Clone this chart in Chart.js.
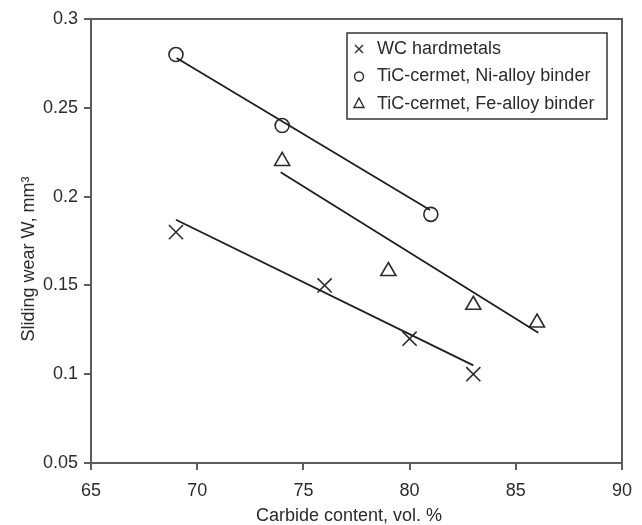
<!DOCTYPE html>
<html><head><meta charset="utf-8">
<script src="https://cdn.jsdelivr.net/npm/chart.js@4.4.1/dist/chart.umd.min.js"></script>
<style>
html,body{margin:0;padding:0;background:#fff;}
#wrap{position:relative;width:642px;height:525px;}
</style></head>
<body><div id="wrap"><canvas id="chart" width="642" height="525"></canvas></div>
<script>
const seriesNames = ['WC hardmetals', 'TiC-cermet, Ni-alloy binder', 'TiC-cermet, Fe-alloy binder'];
const wcCarbide = [69, 76, 80, 83];
const wcWear = [0.18, 0.15, 0.12, 0.10];
const niCarbide = [69, 74, 81];
const niWear = [0.28, 0.24, 0.19];
const feCarbide = [74, 79, 83, 86];
const feWear = [0.22, 0.158, 0.139, 0.129];
// trend-line end points as drawn in the picture
const wcFitCarbide = [69, 83];
const wcFitWear = [0.187, 0.105];
const niFitCarbide = [69.03, 80.96];
const niFitWear = [0.278, 0.1925];
const feFitCarbide = [73.93, 86.06];
const feFitWear = [0.2137, 0.1234];
const xTickValues = [65, 70, 75, 80, 85, 90];
const yTickValues = [0.05, 0.1, 0.15, 0.2, 0.25, 0.3];
const xTitle = 'Carbide content, vol. %';
const yTitle = 'Sliding wear W, mm\u00B3';

const pts = (xs, ys) => xs.map((x, i) => ({x: x, y: ys[i]}));
const FONT = "'Liberation Sans', Arial, sans-serif";
const INK = '#2b2b2b';
const AXIS = '#5c5c5c';
const LINE = '#1e1e1e';

Chart.defaults.font.family = FONT;
Chart.defaults.font.size = 18;
Chart.defaults.color = INK;

function legendMarker(ctx, style, x, y) {
  ctx.beginPath();
  if (style === 'cross') {
    ctx.moveTo(x - 4, y - 4); ctx.lineTo(x + 4, y + 4);
    ctx.moveTo(x + 4, y - 4); ctx.lineTo(x - 4, y + 4);
  } else if (style === 'circle') {
    ctx.arc(x, y, 4.5, 0, Math.PI * 2);
  } else {
    ctx.moveTo(x, y - 6); ctx.lineTo(x + 5, y + 3.5); ctx.lineTo(x - 5, y + 3.5); ctx.closePath();
  }
  ctx.stroke();
}

const frameAndText = {
  id: 'frameAndText',
  afterDraw(chart) {
    const ctx = chart.ctx, a = chart.chartArea;
    ctx.save();
    ctx.strokeStyle = AXIS; ctx.lineWidth = 2;
    ctx.strokeRect(a.left, a.top, a.right - a.left, a.bottom - a.top);
    ctx.fillStyle = INK; ctx.font = '18px ' + FONT;
    ctx.textAlign = 'center'; ctx.textBaseline = 'alphabetic';
    ctx.fillText(xTitle, 349, 521);
    ctx.save();
    ctx.translate(29, 259); ctx.rotate(-Math.PI / 2);
    ctx.textBaseline = 'middle';
    ctx.fillText(yTitle, 0, 0);
    ctx.restore();
    // legend box
    ctx.fillStyle = '#fff';
    ctx.fillRect(347, 33, 260, 86);
    ctx.strokeStyle = '#333'; ctx.lineWidth = 1.5;
    ctx.strokeRect(347, 33, 260, 86);
    const rows = [49, 76.5, 104];
    const styles = ['cross', 'circle', 'triangle'];
    ctx.fillStyle = INK; ctx.textAlign = 'left'; ctx.textBaseline = 'middle';
    ctx.lineWidth = 1.4; ctx.strokeStyle = INK;
    for (let i = 0; i < 3; i++) {
      legendMarker(ctx, styles[i], 359, rows[i]);
      ctx.fillText(seriesNames[i], 377, rows[i]);
    }
    ctx.restore();
  }
};

const markerBase = {showLine: false, pointBorderColor: INK, pointBackgroundColor: 'rgba(0,0,0,0)', pointBorderWidth: 1.6, pointHoverRadius: 0};
const fitBase = {showLine: true, borderColor: LINE, borderWidth: 1.8, pointRadius: 0, pointHoverRadius: 0, fill: false};

new Chart(document.getElementById('chart'), {
  type: 'scatter',
  data: {
    datasets: [
      Object.assign({label: 'fit WC', data: pts(wcFitCarbide, wcFitWear)}, fitBase),
      Object.assign({label: 'fit Ni', data: pts(niFitCarbide, niFitWear)}, fitBase),
      Object.assign({label: 'fit Fe', data: pts(feFitCarbide, feFitWear)}, fitBase),
      Object.assign({label: seriesNames[0], data: pts(wcCarbide, wcWear), pointStyle: 'crossRot', pointRadius: 10}, markerBase),
      Object.assign({label: seriesNames[1], data: pts(niCarbide, niWear), pointStyle: 'circle', pointRadius: 7}, markerBase),
      Object.assign({label: seriesNames[2], data: pts(feCarbide, feWear), pointStyle: 'triangle', pointRadius: 8.7}, markerBase)
    ]
  },
  options: {
    responsive: false,
    animation: false,
    devicePixelRatio: 1,
    layout: {padding: {left: 0, top: 19, right: 20, bottom: 0}},
    plugins: {legend: {display: false}, tooltip: {enabled: false}},
    scales: {
      x: {
        type: 'linear', position: 'bottom', min: 65, max: 90,
        afterBuildTicks: s => { s.ticks = xTickValues.map(v => ({value: v})); },
        afterFit: s => { s.height = 62; },
        ticks: {padding: 10, color: INK, font: {size: 18}, maxRotation: 0, autoSkip: false, callback: v => String(v)},
        grid: {drawOnChartArea: false, drawTicks: true, tickLength: 7, color: AXIS, lineWidth: 2},
        border: {display: false}
      },
      y: {
        type: 'linear', position: 'left', min: 0.05, max: 0.3,
        afterBuildTicks: s => { s.ticks = yTickValues.map(v => ({value: v})); },
        afterFit: s => { s.width = 91; },
        ticks: {padding: 6, color: INK, font: {size: 18}, autoSkip: false, callback: v => String(Number(v.toFixed(2)))},
        grid: {drawOnChartArea: false, drawTicks: true, tickLength: 7, color: AXIS, lineWidth: 2},
        border: {display: false}
      }
    }
  },
  plugins: [frameAndText]
});
</script>
</body></html>
